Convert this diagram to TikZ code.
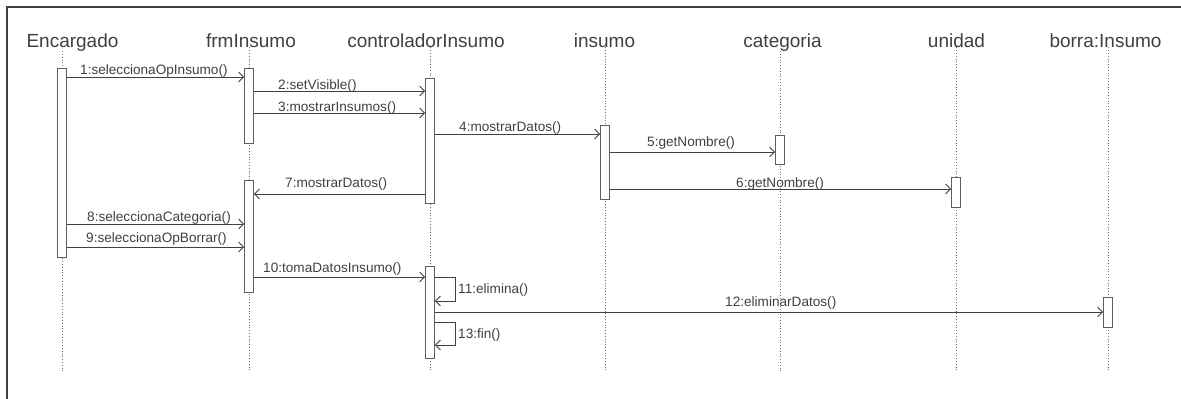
\documentclass[tikz,border=0pt]{standalone}
\usepackage{fontspec}
\setmainfont{Liberation Sans}
\usetikzlibrary{arrows.meta}
\definecolor{ink}{HTML}{404040}

\begin{document}
\begin{tikzpicture}[
  x=1pt, y=-1pt,
  obj/.style={font=\fontsize{19}{22}\selectfont, text=ink, anchor=base, inner sep=0pt},
  act/.style={draw=ink!85, fill=white, line width=0.8pt, minimum width=9pt, inner sep=0pt},
  life/.style={draw=ink!75, dotted, line width=0.8pt},
  msg/.style={-{Straight Barb[length=5pt, width=10pt]}, draw=ink, line width=0.8pt},
  lbl/.style={font=\fontsize{13.6}{16}\selectfont, text=ink, anchor=base west, inner sep=0pt}
]
\useasboundingbox (0,0) rectangle (1181,399);
\draw[ink, line width=1.3pt] (1181,7) -- (7,7) -- (7,399);

% objects
\node[obj] (enc) at (72.5,47) {Encargado};
\node[obj] (frm) at (251,47) {frmInsumo};
\node[obj] (ctl) at (426,47) {controladorInsumo};
\node[obj] (ins) at (604.5,47) {insumo};
\node[obj] (cat) at (782.5,47) {categoria};
\node[obj] (uni) at (956.5,47) {unidad};
\node[obj] (bor) at (1105.5,47) {borra:Insumo};

% lifelines (x of the activation bars)
\coordinate (encx) at (62,371);
\coordinate (frmx) at (249,371);
\coordinate (ctlx) at (430,371);
\coordinate (insx) at (605,371);
\coordinate (catx) at (780,371);
\coordinate (unix) at (956,371);
\coordinate (borx) at (1108,371);
\draw[life] (encx |- enc.south) -- (encx);
\draw[life] (frmx |- frm.south) -- (frmx);
\draw[life] (ctlx |- ctl.south) -- (ctlx);
\draw[life] (insx |- ins.south) -- (insx);
\draw[life] (catx |- cat.south) -- (catx);
\draw[life] (unix |- uni.south) -- (unix);
\draw[life] (borx |- bor.south) -- (borx);

% activations
\node[act, minimum height=189pt] (enc1) at (62,162.5) {};
\node[act, minimum height=75pt] (frm1) at (249,105.5) {};
\node[act, minimum height=112pt] (frm2) at (249,236) {};
\node[act, minimum height=125pt] (ctl1) at (430,140.5) {};
\node[act, minimum height=92pt] (ctl2) at (430,312) {};
\node[act, minimum height=74pt] (ins1) at (605,162) {};
\node[act, minimum height=29pt] (cat1) at (780,149.5) {};
\node[act, minimum height=30pt] (uni1) at (956,192) {};
\node[act, minimum height=30pt] (bor1) at (1108,312) {};

% messages
\draw[msg] (enc1.east |- 0,77) -- (frm1.west |- 0,77);
\draw[msg] (frm1.east |- 0,91) -- (ctl1.west |- 0,91);
\draw[msg] (frm1.east |- 0,113) -- (ctl1.west |- 0,113);
\draw[msg] (ctl1.east |- 0,134) -- (ins1.west |- 0,134);
\draw[msg] (ins1.east |- 0,152) -- (cat1.west |- 0,152);
\draw[msg] (ins1.east |- 0,189) -- (uni1.west |- 0,189);
\draw[msg] (ctl1.west |- 0,194) -- (frm2.east |- 0,194);
\draw[msg] (enc1.east |- 0,224) -- (frm2.west |- 0,224);
\draw[msg] (enc1.east |- 0,247) -- (frm2.west |- 0,247);
\draw[msg] (frm2.east |- 0,277) -- (ctl2.west |- 0,277);
\draw[msg] (ctl2.east |- 0,277) -- ++(20,0) |- (ctl2.east |- 0,301);
\draw[msg] (ctl2.east |- 0,312) -- (bor1.west |- 0,312);
\draw[msg] (ctl2.east |- 0,322) -- ++(20,0) |- (ctl2.east |- 0,345);

% message labels
\node[lbl] (m1) at (80,74) {1:seleccionaOpInsumo()};
\node[lbl] (m2) at (278,89.5) {2:setVisible()};
\node[lbl] (m3) at (278,111) {3:mostrarInsumos()};
\node[lbl] (m4) at (459,131.5) {4:mostrarDatos()};
\node[lbl] (m5) at (647,146) {5:getNombre()};
\node[lbl] (m6) at (736,187) {6:getNombre()};
\node[lbl] (m7) at (285,187) {7:mostrarDatos()};
\node[lbl] (m8) at (87,221) {8:seleccionaCategoria()};
\node[lbl] (m9) at (86,242) {9:seleccionaOpBorrar()};
\node[lbl] (m10) at (263,272) {10:tomaDatosInsumo()};
\node[lbl] (m11) at (458,293) {11:elimina()};
\node[lbl] (m12) at (725,306) {12:eliminarDatos()};
\node[lbl] (m13) at (458,338) {13:fin()};
\end{tikzpicture}
\end{document}
